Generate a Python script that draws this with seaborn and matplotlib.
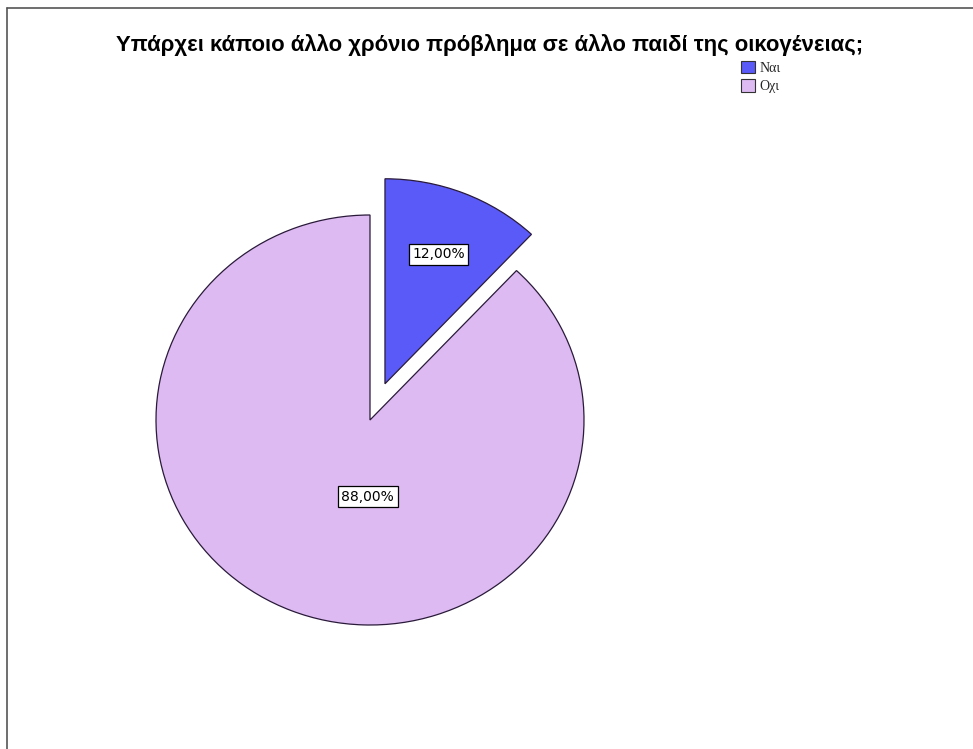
import matplotlib
matplotlib.use("Agg")
import matplotlib.pyplot as plt
import matplotlib.patches as mpatches
from matplotlib.lines import Line2D
import seaborn as sns
import numpy as np

# Survey answers and their shares (%)
categories = ["Ναι", "Οχι"]
shares = [12.0, 88.0]
title = "Υπάρχει κάποιο άλλο χρόνιο πρόβλημα σε άλλο παιδί της οικογένειας;"

sns.set_theme(style="white")
plt.rcParams["font.family"] = ["Liberation Sans", "DejaVu Sans"]

colors = ["#5A5AF8", "#DDBAF2"]

W, H = 973, 749
fig = plt.figure(figsize=(W / 100, H / 100), dpi=100)

# Pie axes: slightly wider than tall, centred at (370, 329) px
RX, RY = 214, 205
lim = 1.3
cx, cy = 370, 329
ax = fig.add_axes([(cx - lim * RX) / W, (cy - lim * RY) / H, 2 * lim * RX / W, 2 * lim * RY / H])

explode = [0.19, 0.0]
wedges, _ = ax.pie(
    shares,
    colors=colors,
    startangle=90,
    counterclock=False,
    explode=explode,
    radius=1.0,
    wedgeprops=dict(edgecolor="#2a1a3a", linewidth=0.9),
)
ax.set_xlim(-lim, lim)
ax.set_ylim(-lim, lim)
ax.set_aspect("auto")
ax.axis("off")

# Percentage labels in boxes
def fmt(v):
    return f"{v:.2f}".replace(".", ",") + "%"

box = dict(boxstyle="square,pad=0.25", facecolor="white", edgecolor="black", linewidth=0.9)
label_font = dict(family=["DejaVu Sans"], fontsize=10, color="black")

# small slice label, inside the exploded wedge
theta1 = np.deg2rad(90 - shares[0] / 100 * 360 / 2)
r1 = explode[0] + 0.68
ax.text(r1 * np.cos(theta1), r1 * np.sin(theta1), fmt(shares[0]),
        ha="center", va="center", bbox=box, **label_font)
# large slice label
ax.text(-0.01, -0.375, fmt(shares[1]), ha="center", va="center", bbox=box, **label_font)

# Title
fig.text(490 / W, 1 - 45 / H, title, ha="center", va="center",
         fontsize=15.9, fontweight="bold", color="black")

# Legend
handles = [mpatches.Patch(facecolor=c, edgecolor="#333333", linewidth=0.8) for c in colors]
fig.legend(handles, categories, loc="upper left", bbox_to_anchor=(741 / W, 1 - 61 / H),
           frameon=False, handlelength=1.0, handleheight=1.0, handletextpad=0.3,
           labelspacing=0.3, borderpad=0.0, borderaxespad=0.0,
           prop=dict(family=["Liberation Serif", "DejaVu Serif"], size=10))

# Frame lines along top and left edges
fig.add_artist(Line2D([7 / W, 1], [1 - 8 / H, 1 - 8 / H], color="#555555", linewidth=1.2,
                      transform=fig.transFigure))
fig.add_artist(Line2D([7 / W, 7 / W], [0, 1 - 8 / H], color="#555555", linewidth=1.2,
                      transform=fig.transFigure))

fig.savefig("out.png", dpi=100, facecolor="white")
